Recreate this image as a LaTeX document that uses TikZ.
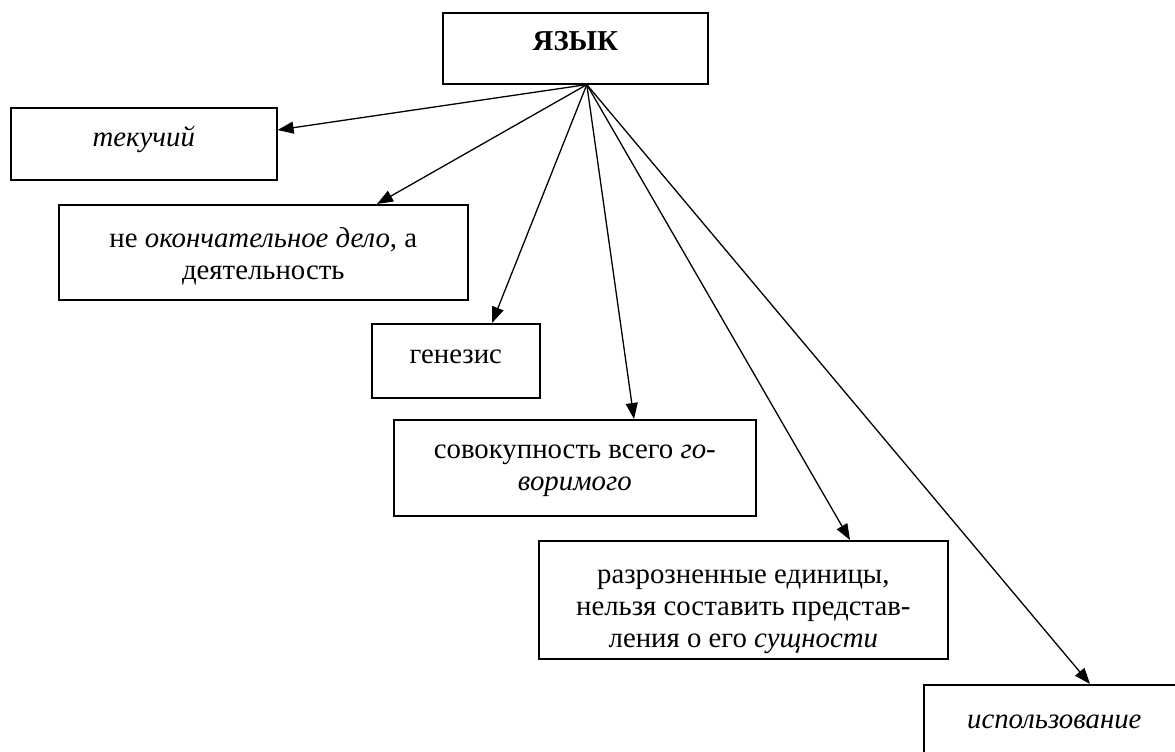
\documentclass[tikz,border=0pt]{standalone}
\usepackage{fontspec}
\setmainfont{Liberation Serif}
\usetikzlibrary{arrows.meta,calc}
\newcommand{\txtbox}[4]{\parbox[c][#2pt][t]{#1pt}{\centering\vspace*{\dimexpr#3pt-25pt\relax}\rule{0pt}{25pt}#4\par}}
\begin{document}
\begin{tikzpicture}[x=1pt,y=-1pt,
  box/.style={draw, line width=1.6pt, inner sep=0pt, anchor=north west,
    font=\fontsize{28.8}{32}\selectfont},
  conn/.style={line width=1.3pt, -{Triangle[length=16pt,width=12pt]}}]
\useasboundingbox (0,0) rectangle (1175,752);
\clip (0,0) rectangle (1175,752);
\node[box] (yaz) at (442,12) {\txtbox{265}{71}{38}{\textbf{ЯЗЫК}}};
\node[box] (tek) at (10,107) {\txtbox{266}{72}{39}{\textit{текучий}}};
\node[box] (neok) at (58,204) {\txtbox{409}{95}{43}{не \textit{окончательное дело}, а\\деятельность}};
\node[box] (gen) at (371,323) {\txtbox{168}{74}{40}{генезис}};
\node[box] (sov) at (393,419) {\txtbox{362}{96}{39}{совокупность всего \textit{го-}\\\textit{воримого}}};
\node[box] (raz) at (538,540) {\txtbox{409}{118}{43}{разрозненные единицы,\\нельзя составить представ-\\ления о его \textit{сущности}}};
\node[box] (isp) at (923,684) {\txtbox{261}{80}{44}{\textit{использование}}};
\coordinate (src) at ($(yaz.south)+(11.5,0)$);
\draw[conn] (src) -- ($(tek.north east)+(0,23)$);
\draw[conn] (src) -- ($(neok.north west)+(319,0)$);
\draw[conn] (src) -- ($(gen.north west)+(121,0)$);
\draw[conn] (src) -- ($(sov.north west)+(241,0)$);
\draw[conn] (src) -- ($(raz.north west)+(312,0)$);
\draw[conn] (src) -- ($(isp.north west)+(167,0)$);
\end{tikzpicture}
\end{document}
